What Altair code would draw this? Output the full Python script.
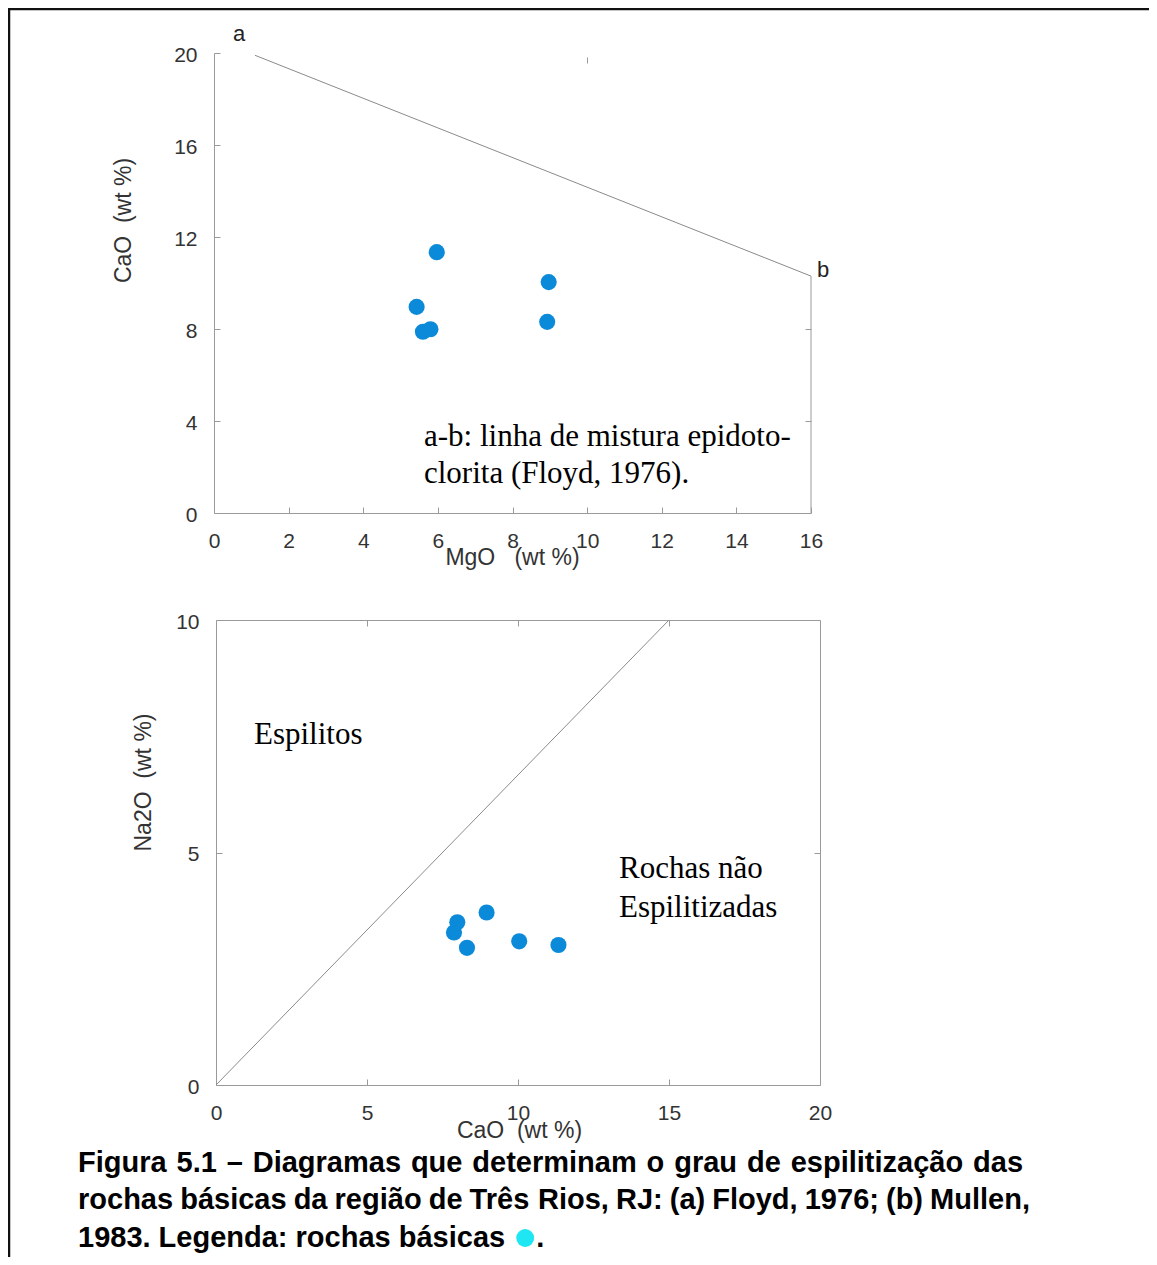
import altair as alt
import pandas as pd

# ---------------- data ----------------
mgo = [5.97, 8.97, 5.43, 5.60, 5.80, 8.93]
cao = [11.34, 10.04, 8.96, 7.88, 7.99, 8.31]
na2o = [3.01, 3.09, 3.71, 3.28, 3.50, 2.95]

ab_mgo = [1.1, 16.0]          # Floyd (1976) epidote-chlorite mixing line a-b
ab_cao = [19.9, 10.3]

mullen_cao = [0.0, 15.0]      # Mullen (1983) boundary
mullen_na2o = [0.0, 10.0]

top_x_ticks = [0, 2, 4, 6, 8, 10, 12, 14, 16]
top_y_ticks = [0, 4, 8, 12, 16, 20]
bot_x_ticks = [0, 5, 10, 15, 20]
bot_y_ticks = [0, 5, 10]

caption_lines = [
    "Figura 5.1 – Diagramas que determinam o grau de espilitização das",
    "rochas básicas da região de Três Rios, RJ: (a) Floyd, 1976; (b) Mullen,",
    "1983. Legenda: rochas básicas",
]

# ---------------- layout ----------------
W, H = 1141, 1249
SANS = "Liberation Sans, Arial, sans-serif"
SERIF = "Liberation Serif, Times New Roman, serif"
GREY = "#9a9a9a"
DOT = "#0a8ad8"
SERIF_SIZE = 31

TOP_XR, TOP_YR = [206, 803], [505, 45]
BOT_XR, BOT_YR = [208, 812], [1077, 612]

sx_top = alt.Scale(domain=[0, 16], range=TOP_XR, nice=False)
sy_top = alt.Scale(domain=[0, 20], range=TOP_YR, nice=False)
sx_bot = alt.Scale(domain=[0, 20], range=BOT_XR, nice=False)
sy_bot = alt.Scale(domain=[0, 10], range=BOT_YR, nice=False)

AX = dict(grid=False, domainColor=GREY, tickColor=GREY, domainWidth=1, tickWidth=1,
          tickSize=6, labelFont=SANS, labelFontSize=21, labelColor="#333",
          labelFlush=False, labelOverlap=False, titleFont=SANS, titleFontSize=23,
          titleFontWeight="normal", titleColor="#333")


def y_main(x_pos, values, title, tx, ty):
    return alt.Axis(**AX, orient="right", offset=x_pos - W, values=values,
                    labelAlign="right", labelPadding=-23, labelBaseline="middle",
                    labelOffset=2, title=title, titleAngle=270, titleX=tx, titleY=ty,
                    titleAlign="center", titleBaseline="middle")


def x_main(y_pos, values, title, tx, ty):
    return alt.Axis(**AX, orient="top", offset=-y_pos, values=values,
                    labelAlign="center", labelBaseline="top", labelPadding=-23,
                    title=title, titleX=tx, titleY=ty, titleAlign="center",
                    titleBaseline="middle", titleAngle=0)


def ticks_only(orient, offset, values, domain):
    return alt.Axis(**AX, orient=orient, offset=offset, values=values,
                    labels=False, domain=domain, title=None)


pts = pd.DataFrame({"MgO": mgo, "CaO": cao, "Na2O": na2o})
ab = pd.DataFrame({"MgO": ab_mgo, "CaO": ab_cao})
mul = pd.DataFrame({"CaO": mullen_cao, "Na2O": mullen_na2o})
one = pd.DataFrame({"k": [0]})


def label(txt, x, y, font=SERIF, size=SERIF_SIZE, weight="normal", color="#000"):
    return alt.Chart(one).mark_text(text=txt, font=font, fontSize=size, fontWeight=weight,
                                    color=color, align="left", baseline="alphabetic").encode(
        x=alt.value(x), y=alt.value(y))


# ---------------- top panel (Floyd 1976) ----------------
top_pts = alt.Chart(pts).mark_circle(size=260, color=DOT, opacity=1).encode(
    x=alt.X("MgO:Q", scale=sx_top,
            axis=x_main(TOP_YR[0], top_x_ticks, "MgO\u00a0\u00a0 (wt %)", 504, 44)),
    y=alt.Y("CaO:Q", scale=sy_top,
            axis=y_main(TOP_XR[0], top_y_ticks, "CaO\u00a0\u00a0(wt %)", -91, 212)),
)
top_line = alt.Chart(ab).mark_line(color="#8a8a8a", strokeWidth=1).encode(
    x=alt.X("MgO:Q", scale=sx_top, axis=ticks_only("bottom", 49 - H, [10], False)),
    y=alt.Y("CaO:Q", scale=sy_top, axis=ticks_only("left", -TOP_XR[1], [4, 8], False)),
)
top_right = alt.Chart(ab).transform_filter("datum.MgO == 16").mark_rule(
    color=GREY, strokeWidth=1).encode(
    x=alt.X("MgO:Q", scale=sx_top, axis=None),
    y=alt.Y("CaO:Q", scale=sy_top, axis=None),
    y2=alt.datum(0),
)
top_panel = alt.layer(
    top_line, top_right, top_pts,
    label("a", 225, 33, font=SANS, size=22, color="#222"),
    label("b", 809, 269, font=SANS, size=22, color="#222"),
    label("a-b: linha de mistura epidoto-", 416, 438),
    label("clorita (Floyd, 1976).", 416, 475),
).resolve_axis(x="independent", y="independent")

# ---------------- bottom panel (Mullen 1983) ----------------
bot_pts = alt.Chart(pts).mark_circle(size=260, color=DOT, opacity=1).encode(
    x=alt.X("CaO:Q", scale=sx_bot,
            axis=x_main(BOT_YR[0], bot_x_ticks, "CaO\u00a0\u00a0(wt %)", 511, 45)),
    y=alt.Y("Na2O:Q", scale=sy_bot,
            axis=y_main(BOT_XR[0], bot_y_ticks, "Na2O\u00a0\u00a0(wt %)", -73, 774)),
)
bot_line = alt.Chart(mul).mark_line(color="#8a8a8a", strokeWidth=1).encode(
    x=alt.X("CaO:Q", scale=sx_bot, axis=ticks_only("bottom", BOT_YR[1] - H, [5, 10, 15], True)),
    y=alt.Y("Na2O:Q", scale=sy_bot, axis=ticks_only("left", -BOT_XR[1], [5], True)),
)
bot_panel = alt.layer(
    bot_line, bot_pts,
    label("Espilitos", 246, 736),
    label("Rochas não", 611, 870),
    label("Espilitizadas", 611, 909),
).resolve_axis(x="independent", y="independent")

# ---------------- caption (justified like the source) ----------------
AW = {' ': 278, '.': 278, ',': 278, ':': 333, ';': 333, '(': 333, ')': 333, '–': 556,
      'F': 611, 'D': 722, 'R': 722, 'J': 556, 'M': 833, 'T': 611, 'L': 611,
      'a': 556, 'b': 611, 'c': 556, 'd': 611, 'e': 556, 'f': 333, 'g': 611, 'h': 611,
      'i': 278, 'j': 278, 'k': 556, 'l': 278, 'm': 889, 'n': 611, 'o': 611, 'p': 611,
      'q': 611, 'r': 389, 's': 556, 't': 333, 'u': 611, 'v': 556, 'w': 778, 'x': 556,
      'y': 556, 'z': 500, 'á': 556, 'ã': 556, 'ê': 556, 'ç': 556, 'õ': 611}
CAP_SIZE = 29
CAP_X0 = 70
CAP_X1 = [1015, 1022]
CAP_Y = [1164, 1201, 1239]


def tw(s):
    return sum(AW.get(ch, 556) for ch in s) / 1000 * CAP_SIZE


rows = []
for i, line in enumerate(caption_lines):
    words = line.split(" ")
    if i < 2:
        gap = (CAP_X1[i] - CAP_X0 - sum(tw(w) for w in words)) / (len(words) - 1)
    else:
        gap = tw(" ")
    x = CAP_X0
    for w in words:
        rows.append({"w": w, "px": x, "py": CAP_Y[i]})
        x += tw(w) + gap
dot_x = x + 12
rows.append({"w": ".", "px": dot_x + 11, "py": CAP_Y[2]})
cap = pd.DataFrame(rows)

caption = alt.Chart(cap).mark_text(font=SANS, fontSize=CAP_SIZE, fontWeight="bold",
                                   color="#000", align="left", baseline="alphabetic").encode(
    x=alt.X("px:Q", scale=None, axis=None),
    y=alt.Y("py:Q", scale=None, axis=None),
    text="w:N",
)
legend_dot = alt.Chart(one).mark_point(shape="circle", filled=True, size=320,
                                       color="#1ee6f2", opacity=1).encode(
    x=alt.value(dot_x), y=alt.value(CAP_Y[2] - 9))

# ---------------- frame ----------------
frame_left = alt.Chart(one).mark_rule(color="#111", strokeWidth=2.5).encode(
    x=alt.value(1), y=alt.value(0), y2=alt.value(H))
frame_top = alt.Chart(one).mark_rule(color="#111", strokeWidth=2.5).encode(
    x=alt.value(0), x2=alt.value(W), y=alt.value(1))

chart = alt.layer(
    frame_left, frame_top, top_panel, bot_panel, caption, legend_dot
).resolve_scale(x="independent", y="independent").properties(
    width=W, height=H, padding=0,
    autosize=alt.AutoSizeParams(type="none"),
).configure_view(stroke=None).configure(background="white")

chart.save("out.html", embed_options={"renderer": "svg", "actions": False})
